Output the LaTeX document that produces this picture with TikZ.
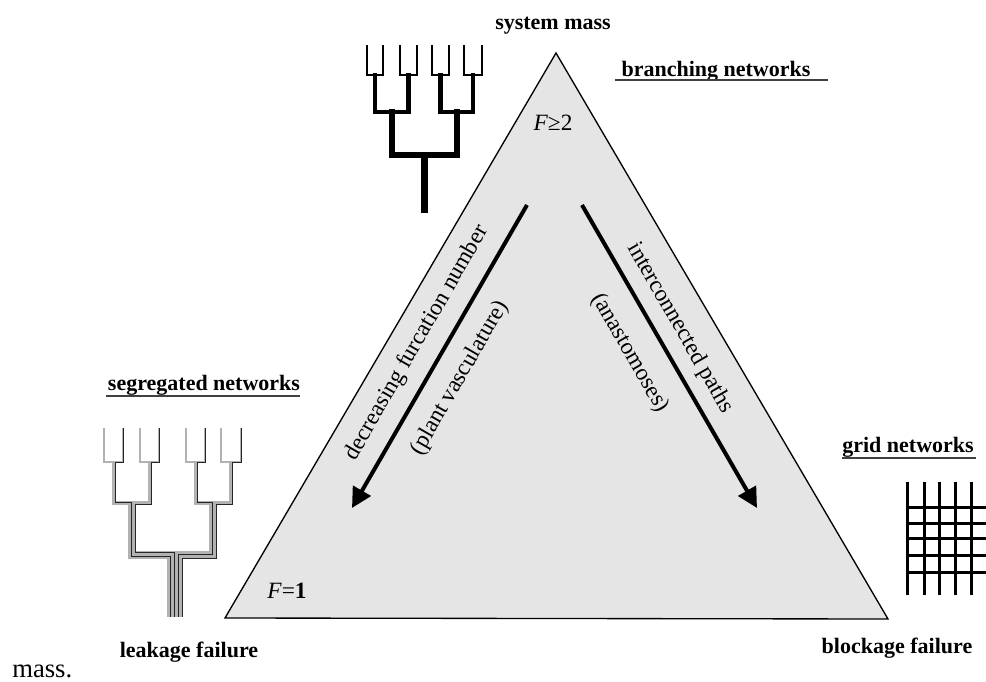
\documentclass[tikz,border=0pt]{standalone}
\usepackage{fontspec}
\setmainfont{Liberation Serif}
\usetikzlibrary{arrows.meta}
\begin{document}
\begin{tikzpicture}[x=0.75pt,y=-0.75pt,
lab/.style={font=\fontsize{16.5}{18}\selectfont\bfseries,inner sep=0pt,anchor=base},
slant/.style={font=\fontsize{17.5}{20}\selectfont,inner sep=0pt},
uline/.style={draw=black!75,line width=1.1pt},
arr/.style={line width=3pt,-{Triangle[length=15pt,width=15pt]}},
twig/.style={line width=1.3pt},
limb/.style={line width=3.5pt,line cap=rect},
bough/.style={line width=4.5pt,line cap=rect},
stem/.style={line width=5pt},
seg/.style={draw=gray!60,line width=1.3pt},
segk/.style={seg,postaction={draw=black!85,line width=0.55pt}},
gridl/.style={line width=2.25pt}
]
\useasboundingbox (0,0) rectangle (986,682);
\coordinate (A) at (556,53);
\coordinate (B) at (225,618);
\coordinate (C) at (888,619);
\filldraw[fill=gray!20,line width=1pt] (A) -- (B) -- (C) -- cycle;

\coordinate (l1) at (527,205);
\coordinate (l2) at (352,508);
\coordinate (r1) at (582,205);
\coordinate (r2) at (757,508);
\draw[arr] (l1) -- (l2);
\draw[arr] (r1) -- (r2);

\node[lab] (sm) at (553,29) {system mass};
\node[lab] (bn) at (716,76) {branching networks};
\draw[uline] ([shift={(-6,4)}]bn.base west) -- ([shift={(17,4)}]bn.base east);
\node[lab] (sn) at (204,390) {segregated networks};
\draw[uline] ([shift={(-2,6)}]sn.base west) -- ([shift={(0,6)}]sn.base east);
\node[lab] (gn) at (908,452) {grid networks};
\draw[uline] ([shift={(0,6)}]gn.base west) -- ([shift={(2,6)}]gn.base east);
\node[lab] (lf) at (189,657) {leakage failure};
\node[lab] (bf) at (897,653) {blockage failure};
\node[font=\fontsize{20}{24}\selectfont,inner sep=0pt,anchor=base west] (ms) at (12,677) {mass.};

\node[slant] (f2) at (553,123) {\textit{F}≥2};
\node[slant] (f1) at (287,591) {\textit{F}=\textbf{1}};
\node[slant,rotate=60] (dfn) at (417,343) {decreasing furcation number};
\node[slant,rotate=60] (pv) at (460,378) {(plant vasculature)};
\node[slant,rotate=-60] (ip) at (680,328) {interconnected paths};
\node[slant,rotate=-60] (an) at (630,353) {(anastomoses)};

\foreach \a/\b in {367/383,400/417,432/449,464/482}
  \draw[twig] (\a,45) |- (\b,75) -- (\b,45);
\draw[limb] (375,75) |- (408.5,112) -- (408.5,75);
\draw[limb] (440.5,75) |- (473,112) -- (473,75);
\draw[bough] (392,112) |- (457,155) -- (457,112);
\draw[stem] (424.5,155) -- (424.5,213);

\draw[seg] (104,428) -- (104,462) -- (113,462) -- (113,504) -- (129,504) -- (129,558) -- (168,558) -- (168,617);
\draw[segk] (123,428) -- (123,462) -- (115,462) -- (115,502) -- (131,502) -- (131,556) -- (170,556) -- (170,617);
\draw[seg] (140,428) -- (140,462) -- (149,462) -- (149,502) -- (133,502) -- (133,554) -- (172,554) -- (172,617);
\draw[segk] (159,428) -- (159,462) -- (151,462) -- (151,504) -- (135,504) -- (135,552) -- (174,552) -- (174,617);
\draw[seg] (186,428) -- (186,462) -- (195,462) -- (195,504) -- (210,504) -- (210,552) -- (176,552) -- (176,617);
\draw[segk] (205,428) -- (205,462) -- (197,462) -- (197,502) -- (212,502) -- (212,554) -- (178,554) -- (178,617);
\draw[seg] (221,428) -- (221,462) -- (230,462) -- (230,502) -- (214,502) -- (214,556) -- (180,556) -- (180,617);
\draw[segk] (241,428) -- (241,462) -- (232,462) -- (232,504) -- (216,504) -- (216,558) -- (182,558) -- (182,617);

\foreach \x in {907,924,939,955,971}
  \draw[gridl] (\x,482) -- (\x,595);
\foreach \y in {507,523,538,555,572}
  \draw[gridl] (907,\y) -- (986,\y);
\end{tikzpicture}
\end{document}
